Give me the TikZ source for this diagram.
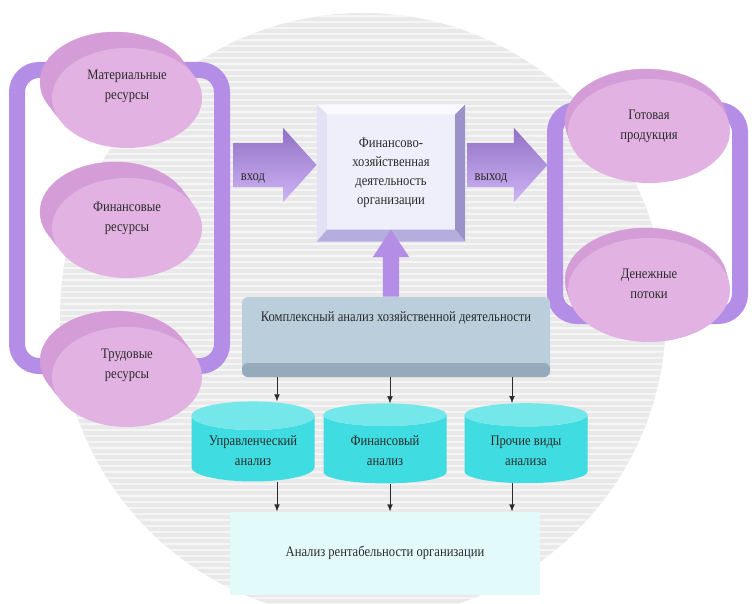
\documentclass[tikz,border=0pt]{standalone}
\usepackage{fontspec}
\setmainfont{Liberation Serif}[FakeStretch=0.87]
\usetikzlibrary{positioning,shapes.geometric,shapes.arrows,shadows,backgrounds,arrows.meta}

\definecolor{diskface}{HTML}{E2B3E2}
\definecolor{diskrim}{HTML}{D49DD7}
\definecolor{bandcol}{HTML}{B38DE6}
\definecolor{arrtop}{HTML}{9071C4}
\definecolor{arrbot}{HTML}{CFB4F5}
\definecolor{fhdface}{HTML}{EFEFFB}
\definecolor{bevlight}{HTML}{F9F9FF}
\definecolor{bevleft}{HTML}{E2E2F4}
\definecolor{bevright}{HTML}{9B92C9}
\definecolor{bevbot}{HTML}{B5ADDD}
\definecolor{komplface}{HTML}{BBCEDC}
\definecolor{komplside}{HTML}{95ABBC}
\definecolor{cylbody}{HTML}{3FDDE1}
\definecolor{cyltop}{HTML}{74E7EA}
\definecolor{rentface}{HTML}{E3FAFB}
\definecolor{circfill}{HTML}{E9E9E9}
\definecolor{txt}{HTML}{2B2B2B}

\tikzset{
  lbl/.style={align=center, text=txt, font=\fontsize{14.5}{20}\selectfont},
  disk/.style={ellipse, fill=diskface, inner sep=0pt},
  leftdisk/.style={disk, minimum width=150pt, minimum height=100pt,
    double copy shadow={shadow xshift=-6pt, shadow yshift=8pt, fill=diskrim, draw=diskrim}},
  rightdisk/.style={disk, minimum width=162pt, minimum height=104pt,
    double copy shadow={shadow xshift=-1.5pt, shadow yshift=5pt, fill=diskrim, draw=diskrim}},
  band/.style={draw=bandcol, line width=16pt, rounded corners=22pt},
  bigarrow/.style={single arrow, single arrow head extend=15pt, single arrow tip angle=96,
    inner xsep=0pt, inner ysep=22pt, top color=arrtop, bottom color=arrbot},
  cyl/.style={cylinder, shape border rotate=90, aspect=0.3, minimum width=123pt,
    minimum height=80pt, cylinder uses custom fill, cylinder body fill=cylbody,
    cylinder end fill=cyltop, lbl},
  thinarr/.style={draw=txt, -{Latex[length=7pt,width=5.5pt]}}
}

\begin{document}
\begin{tikzpicture}[x=1pt,y=-1pt]
\useasboundingbox (0,0) rectangle (752,604);

\node[leftdisk, label={[lbl,yshift=12pt]center:{Материальные\\ресурсы}}] (mat) at (127,98) {};
\node[leftdisk, label={[lbl,yshift=10pt]center:{Финансовые\\ресурсы}}] (fin) at (127,228) {};
\node[leftdisk, label={[lbl,yshift=12pt]center:{Трудовые\\ресурсы}}] (trud) at (127,377) {};
\node[rightdisk, label={[lbl,yshift=5pt]center:{Готовая\\продукция}}] (gotov) at (649,131) {};
\node[rightdisk, label={[lbl,yshift=6pt]center:{Денежные\\потоки}}] (den) at (649,290) {};

\node[fill=fhdface, minimum width=148pt, minimum height=137pt, lbl,
  font=\fontsize{14.5}{19}\selectfont] (fhd) at (391,173)
  {Финансово-\\хозяйственная\\деятельность\\организации};
\fill[bevlight] (fhd.north west) -- (fhd.north east) -- ([shift={(-10pt,-10pt)}]fhd.north east)
  -- ([shift={(10pt,-10pt)}]fhd.north west) -- cycle;
\fill[bevleft] (fhd.north west) -- ([shift={(10pt,-10pt)}]fhd.north west)
  -- ([shift={(10pt,12pt)}]fhd.south west) -- (fhd.south west) -- cycle;
\fill[bevright] (fhd.north east) -- ([shift={(-10pt,-10pt)}]fhd.north east)
  -- ([shift={(-10pt,12pt)}]fhd.south east) -- (fhd.south east) -- cycle;
\fill[bevbot] (fhd.south west) -- ([shift={(10pt,12pt)}]fhd.south west)
  -- ([shift={(-10pt,12pt)}]fhd.south east) -- (fhd.south east) -- cycle;

\node[bigarrow, minimum height=83pt, anchor=tip] (vhod) at ([yshift=8pt]fhd.west) {};
\node[lbl, anchor=west] (vhodt) at ([shift={(4pt,-13pt)}]vhod.tail) {вход};
\node[bigarrow, minimum height=80pt, anchor=tail] (vyhod) at ([shift={(2pt,8pt)}]fhd.east) {};
\node[lbl, anchor=west] (vyhodt) at ([shift={(4pt,-13pt)}]vyhod.tail) {выход};

\node[fill=komplface, rounded corners=6pt, minimum width=308pt, minimum height=80pt,
  path picture={\fill[komplside] (path picture bounding box.south west)
  rectangle ([yshift=14pt]path picture bounding box.south east);}] (kompl) at (396,337) {};
\node[lbl] (komplt) at ([yshift=-21pt]kompl.north) {Комплексный анализ хозяйственной деятельности};

\node[single arrow, rotate=90, single arrow head extend=10pt, single arrow tip angle=67,
  inner xsep=0pt, inner ysep=8pt, minimum height=67pt, fill=bandcol, anchor=tail]
  (vverh) at (fhd.south |- kompl.north) {};

\node[cyl] (upr) at (253,451) {Управленческий\\анализ};
\node[cyl] (finan) at (385,451) {Финансовый\\анализ};
\node[cyl] (proch) at (526,451) {Прочие виды\\анализа};

\node[fill=rentface, minimum width=310pt, minimum height=83pt, lbl] (rent) at (385,553)
  {Анализ рентабельности организации};

\draw[thinarr] ([xshift=24pt]upr.north |- kompl.south) -- ([xshift=24pt]upr.north);
\draw[thinarr] ([xshift=5pt]finan.north |- kompl.south) -- ([xshift=5pt]finan.north);
\draw[thinarr] ([xshift=-14pt]proch.north |- kompl.south) -- ([xshift=-14pt]proch.north);
\draw[thinarr] ([xshift=24pt]upr.south) -- ([xshift=24pt]upr.south |- rent.north);
\draw[thinarr] ([xshift=5pt]finan.south) -- ([xshift=5pt]finan.south |- rent.north);
\draw[thinarr] ([xshift=-14pt]proch.south) -- ([xshift=-14pt]proch.south |- rent.north);

\begin{scope}[on background layer]
\fill[circfill] (363,316) circle[radius=303];
\begin{scope}
\clip (363,316) circle[radius=303];
\foreach \y in {16,22,...,610}
  \draw[white, line width=2.5pt, opacity=0.55] (50,\y) -- (680,\y);
\end{scope}
\draw[band] (17,70) rectangle (222,366);
\draw[band] (555,110) rectangle (740,316);
\end{scope}
\end{tikzpicture}
\end{document}
